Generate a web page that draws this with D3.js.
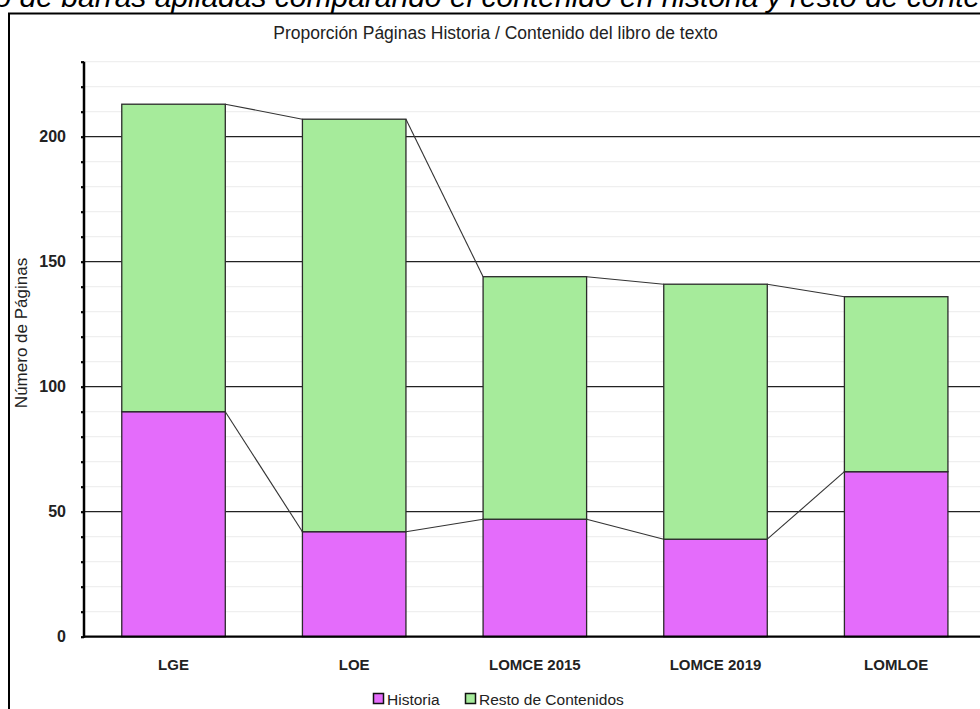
<!DOCTYPE html>
<html><head><meta charset="utf-8">
<script src="https://cdn.jsdelivr.net/npm/d3@7/dist/d3.min.js"></script>
<style>
html,body{margin:0;padding:0;background:#fff;overflow:hidden}
svg{display:block}
</style></head>
<body>
<svg id="c" width="980" height="709"></svg>
<script>
const categories = ["LGE", "LOE", "LOMCE 2015", "LOMCE 2019", "LOMLOE"];
const historia = [90, 42, 47, 39, 66];
const resto = [123, 165, 97, 102, 70];
const seriesNames = ["Historia", "Resto de Contenidos"];
const seriesColors = ["#e46cfb", "#a6eb9b"];
const yTicks = [0, 50, 100, 150, 200];
const title = "Proporción Páginas Historia / Contenido del libro de texto";
const yTitle = "Número de Páginas";
const caption = "Gráfico de barras apiladas comparando el contenido en historia y resto de contenidos";

const svg = d3.select("#c");
const sans = "'Liberation Sans',Arial,sans-serif";

// caption (cropped at top, as in the reference)
const cap = svg.append("text").attr("y", 7).attr("font-family", sans)
  .attr("font-style", "italic").attr("font-size", 30).attr("fill", "#000").text(caption);
const tmp = svg.append("text").attr("font-family", sans).attr("font-style", "italic")
  .attr("font-size", 30).text("Gráfico de ");
const pre = tmp.node().getComputedTextLength(); tmp.remove();
cap.attr("x", 53 - pre);

// frame
svg.append("rect").attr("x", 9).attr("y", 13.5).attr("width", 1000).attr("height", 720)
  .attr("fill", "none").attr("stroke", "#000").attr("stroke-width", 2);

const y = d3.scaleLinear().domain([0, 230]).range([636.7, 61.7]);
const x = d3.scaleBand().domain(categories).range([83.2, 986.5])
  .paddingInner(0.427).paddingOuter(0.2135);
const axisX = 84, rightX = 990;

// minor gridlines
const minor = d3.range(10, 231, 10).filter(v => v % 50 !== 0);
svg.append("g").selectAll("line").data(minor).join("line")
  .attr("x1", axisX).attr("x2", rightX).attr("y1", d => y(d)).attr("y2", d => y(d))
  .attr("stroke", "#efefef").attr("stroke-width", 1.2);
// major gridlines
svg.append("g").selectAll("line").data(yTicks.filter(d => d > 0)).join("line")
  .attr("x1", axisX).attr("x2", rightX).attr("y1", d => y(d)).attr("y2", d => y(d))
  .attr("stroke", "#222").attr("stroke-width", 1.3);

// stacked bars
const data = categories.map((c, i) => ({cat: c, Historia: historia[i], "Resto de Contenidos": resto[i]}));
const stack = d3.stack().keys(seriesNames)(data);
svg.append("g").selectAll("g").data(stack).join("g")
  .attr("fill", (d, i) => seriesColors[i])
  .selectAll("rect").data(d => d).join("rect")
  .attr("x", d => x(d.data.cat)).attr("width", x.bandwidth())
  .attr("y", d => y(d[1])).attr("height", d => y(d[0]) - y(d[1]))
  .attr("stroke", "#2a2a2a").attr("stroke-width", 1.3);

// series lines connecting tops
stack.forEach(s => {
  for (let i = 0; i < s.length - 1; i++) {
    svg.append("line")
      .attr("x1", x(categories[i]) + x.bandwidth()).attr("y1", y(s[i][1]))
      .attr("x2", x(categories[i + 1])).attr("y2", y(s[i + 1][1]))
      .attr("stroke", "#333").attr("stroke-width", 1.1);
  }
});

// y axis
const yAxis = d3.axisLeft(y).tickValues(d3.range(0, 231, 10)).tickSize(3)
  .tickFormat(d => yTicks.includes(d) ? d : "");
const ga = svg.append("g").attr("transform", `translate(${axisX},0)`).call(yAxis);
ga.select(".domain").remove();
ga.selectAll(".tick line").attr("stroke", "#000").attr("stroke-width", 2.2);
ga.selectAll(".tick text").attr("x", -18).attr("font-family", sans).attr("font-weight", "bold")
  .attr("font-size", 16).attr("fill", "#222");
svg.append("line").attr("x1", axisX).attr("x2", axisX).attr("y1", y(230)).attr("y2", y(0) + 1)
  .attr("stroke", "#000").attr("stroke-width", 2.5);
// x baseline
svg.append("line").attr("x1", axisX - 1).attr("x2", rightX).attr("y1", y(0)).attr("y2", y(0))
  .attr("stroke", "#000").attr("stroke-width", 2.3);

// category labels
const xAxis = d3.axisBottom(x).tickSize(0);
const gx = svg.append("g").attr("transform", `translate(0,${y(0)})`).call(xAxis);
gx.select(".domain").remove();
gx.selectAll(".tick text").attr("y", 0).attr("dy", 33.5).attr("font-family", sans)
  .attr("font-weight", "bold").attr("font-size", 15).attr("fill", "#222");

// title
svg.append("text").attr("x", 495.5).attr("y", 38.5).attr("text-anchor", "middle")
  .attr("font-family", sans).attr("font-size", 17.5).attr("fill", "#222").text(title);

// y title
svg.append("text").attr("transform", "translate(27,333) rotate(-90)").attr("text-anchor", "middle")
  .attr("font-family", sans).attr("font-size", 17).attr("fill", "#222").text(yTitle);

// legend
const legX = [373.5, 465.5];
seriesNames.forEach((n, i) => {
  svg.append("rect").attr("x", legX[i]).attr("y", 693.5).attr("width", 10).attr("height", 10)
    .attr("fill", seriesColors[i]).attr("stroke", "#111").attr("stroke-width", 1.5);
  svg.append("text").attr("x", legX[i] + 13.5).attr("y", 704.5).attr("font-family", sans)
    .attr("font-size", 15.5).attr("fill", "#222").text(n);
});
</script>
</body></html>
